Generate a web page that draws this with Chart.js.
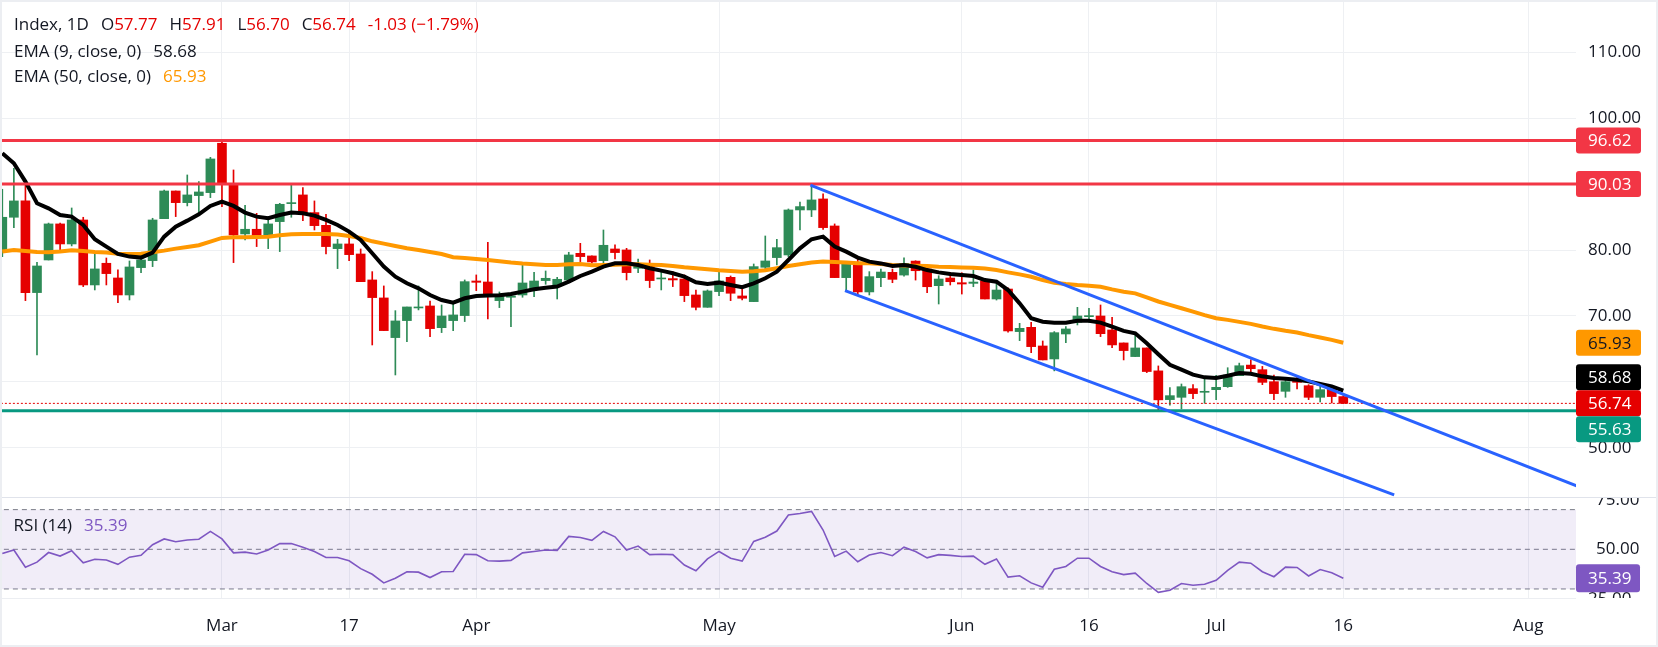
<!DOCTYPE html>
<html><head><meta charset="utf-8">
<script src="https://cdn.jsdelivr.net/npm/chart.js@4.4.1/dist/chart.umd.min.js"></script>
<style>
html,body{margin:0;padding:0;background:#fff;}
#wrap{position:relative;width:1658px;height:647px;overflow:hidden;font-family:'Open Sans',sans-serif;background:#fff;}
#main{position:absolute;left:0;top:0;}
#rsi{position:absolute;left:0;top:498px;}
.row{position:absolute;left:14px;white-space:nowrap;font-size:17px;line-height:20px;color:#131722;}
.row span{display:inline-block;}
.g{margin-left:12px;}
.red{color:#e50000;}
#frame{position:absolute;left:0;top:0;width:1658px;height:647px;border:2px solid #eceef2;box-sizing:border-box;pointer-events:none;}
#sep{position:absolute;left:0;top:497px;width:1658px;height:1px;background:#e0e3eb;}
#sep2{position:absolute;left:0;top:598px;width:1576px;height:1px;background:#eceef2;}
</style></head>
<body><div id="wrap">
<canvas id="main" width="1658" height="498"></canvas>
<canvas id="rsi" width="1658" height="149"></canvas>
<div id="sep"></div><div id="sep2"></div>
<div class="row" style="top:14px"><span>Index, 1D</span><span class="g">O<span class="red">57.77</span></span><span class="g">H<span class="red">57.91</span></span><span class="g">L<span class="red">56.70</span></span><span class="g">C<span class="red">56.74</span></span><span class="g red">-1.03 (−1.79%)</span></div>
<div class="row" style="top:40.7px"><span>EMA (9, close, 0)</span><span class="g">58.68</span></div>
<div class="row" style="top:66px"><span>EMA (50, close, 0)</span><span class="g" style="color:#ff9800">65.93</span></div>
<div class="row" style="top:514.6px;left:13.6px"><span>RSI (14)</span><span class="g" style="color:#7e57c2">35.39</span></div>
<div id="frame"></div>
</div>
<script>
// ---------------- DATA ----------------
const opens = [79.92,84.98,87.46,73.55,78.50,83.97,80.93,84.57,74.71,78.00,
75.77,73.19,77.34,78.40,84.77,88.97,87.20,88.27,88.72,96.21,
90.03,82.45,83.16,81.89,84.32,87.05,88.37,85.69,83.76,80.22,
80.93,79.41,75.47,72.74,66.72,69.30,71.22,71.52,68.23,69.30,
70.06,75.31,75.16,72.33,72.84,73.19,74.15,75.37,74.56,75.47,
79.51,79.11,78.40,80.17,80.02,77.24,77.89,75.62,75.67,75.62,
73.19,71.32,73.70,75.87,73.04,72.18,77.39,78.86,79.26,86.09,
86.09,87.76,83.66,75.82,77.84,73.65,75.81,76.62,76.21,78.33,
77.12,74.60,75.76,75.05,74.95,75.35,72.58,74.09,67.63,68.28,
65.45,63.48,67.27,69.04,69.90,70.00,67.88,65.91,63.84,65.15,
61.67,57.31,57.66,58.97,58.42,58.82,59.27,60.94,62.55,61.85,
60.03,58.57,60.13,59.42,57.66,58.92,57.77];
const highs = [89.23,92.41,90.49,78.15,84.10,84.10,86.39,84.98,79.41,78.80,
76.99,78.35,79.41,84.83,89.12,88.97,91.40,90.39,94.08,96.62,
92.16,86.80,85.58,85.08,87.10,90.03,89.48,87.46,85.43,81.64,
82.55,80.17,76.73,74.56,70.81,71.37,74.56,72.28,71.67,71.83,
75.47,76.23,81.18,73.65,73.45,77.74,76.63,76.83,75.87,79.67,
81.03,79.11,83.05,80.78,80.27,78.65,78.50,76.73,76.73,76.23,
73.95,73.95,76.99,76.07,74.30,77.89,82.14,81.64,86.24,87.30,
89.53,88.52,83.97,78.25,78.91,76.73,77.12,77.12,78.84,78.38,
77.47,76.11,76.62,76.57,76.97,75.45,75.10,74.29,68.89,69.04,
66.21,67.63,68.38,71.31,71.16,71.67,69.80,65.91,67.27,65.15,
62.42,59.12,59.68,59.58,60.48,60.99,62.15,62.85,63.36,62.35,
61.04,60.69,60.79,59.58,59.68,59.07,57.91];
const lows = [79.00,83.41,72.33,64.09,78.50,80.02,80.63,74.46,73.95,74.71,
72.03,72.43,76.58,77.49,84.77,85.08,86.70,85.33,87.96,86.60,
78.10,81.54,80.53,80.22,79.77,84.98,84.47,83.05,79.41,77.19,
78.40,75.21,65.60,67.78,61.05,66.11,70.92,66.87,67.48,67.78,
69.15,73.85,69.55,71.27,68.39,72.84,72.94,74.81,72.58,75.47,
78.25,78.00,78.00,78.65,75.47,76.58,74.31,73.95,74.46,72.18,
70.92,71.32,73.09,72.33,72.43,72.18,76.99,77.74,79.01,83.05,
85.08,83.15,75.82,73.80,73.19,73.19,74.44,75.05,76.06,75.45,
73.54,71.82,74.70,73.33,74.44,72.58,72.42,67.53,66.26,64.44,
63.33,61.67,65.96,68.64,69.04,66.87,65.20,63.33,63.84,61.41,
55.70,56.45,55.90,57.46,56.75,57.31,59.17,60.94,61.34,59.58,
57.31,57.66,58.92,57.31,56.95,56.80,56.70];
const closes = [84.98,87.46,73.55,77.59,83.97,80.93,84.57,74.71,77.14,76.43,
73.19,77.44,78.50,84.57,88.97,87.20,88.37,88.82,93.83,89.98,
82.30,83.16,81.89,83.97,86.95,87.10,85.69,83.71,80.53,80.93,
79.31,75.21,72.79,67.78,69.25,71.37,71.37,68.08,70.00,70.16,
75.21,75.11,72.94,72.94,73.04,75.01,75.31,75.72,75.57,79.26,
79.01,78.20,80.73,79.62,76.58,77.79,75.37,75.77,75.47,73.09,
71.32,73.80,75.32,73.45,72.69,77.49,78.35,80.37,86.09,86.60,
87.61,83.41,75.82,77.84,73.65,75.97,76.67,75.56,77.98,76.87,
74.44,75.61,75.20,74.85,75.15,72.58,73.94,67.73,68.13,65.35,
63.33,67.47,68.03,70.00,70.05,67.32,65.61,64.75,65.15,61.57,
57.27,57.91,59.27,58.22,58.57,59.17,61.04,62.45,62.00,59.93,
58.22,60.03,59.93,57.66,58.82,57.77,56.74];
const ema9 = [94.69,93.17,90.39,87.10,86.34,85.33,85.08,83.81,81.64,80.53,
79.41,79.01,78.86,79.62,82.04,83.56,84.47,85.43,86.70,87.35,
86.70,85.69,85.08,84.83,85.33,85.69,85.58,85.23,84.57,83.81,
82.80,81.54,79.51,77.49,75.97,74.96,74.20,73.19,72.43,72.03,
72.69,73.04,73.09,73.14,73.34,73.70,74.05,74.30,74.46,75.21,
76.07,76.73,77.49,78.00,78.00,77.74,77.24,76.88,76.48,75.97,
75.11,74.86,75.06,74.71,74.36,74.96,75.72,76.73,78.50,80.27,
81.64,82.04,80.53,79.77,78.86,78.25,77.98,77.58,77.73,77.47,
76.97,76.62,76.36,76.21,76.06,75.45,75.20,73.94,71.92,69.65,
69.14,68.99,68.99,69.29,69.29,68.99,68.38,67.73,67.37,65.86,
64.20,62.60,61.85,61.09,60.69,60.58,60.94,61.34,61.24,60.84,
60.58,60.48,60.33,60.08,59.68,59.32,58.68];
const ema50 = [79.77,80.02,79.87,79.72,79.67,79.77,79.97,79.87,79.72,79.62,
79.46,79.41,79.46,79.67,79.92,80.22,80.48,80.73,81.28,81.84,
81.94,81.94,81.99,82.04,82.25,82.40,82.45,82.45,82.45,82.35,
82.15,81.84,81.33,80.98,80.63,80.27,80.02,79.72,79.41,78.91,
78.81,78.65,78.50,78.30,78.10,77.95,77.84,77.74,77.74,77.84,
77.89,77.69,77.74,77.79,77.84,77.84,77.79,77.74,77.59,77.39,
77.24,77.09,76.93,76.83,76.73,76.78,76.93,77.24,77.59,77.84,
78.10,78.25,78.20,78.10,78.00,78.00,77.88,77.73,77.68,77.63,
77.58,77.47,77.42,77.37,77.32,77.22,76.97,76.62,76.31,75.96,
75.45,75.05,74.85,74.70,74.60,74.44,74.04,73.69,73.43,72.83,
72.20,71.68,71.17,70.67,70.12,69.66,69.41,69.11,68.80,68.40,
68.05,67.75,67.49,67.09,66.74,66.38,65.93];
const rsi14 = [47.84,49.64,40.99,43.51,48.38,46.58,49.28,43.15,44.95,44.59,
42.43,46.04,46.94,52.34,55.23,53.78,54.68,55.05,59.01,55.23,
48.20,48.56,47.66,49.64,52.88,52.88,51.08,48.92,45.86,45.86,
44.23,40.27,37.39,33.06,35.41,38.65,38.47,35.77,38.65,38.83,
47.48,47.30,44.23,44.05,44.41,48.20,48.92,49.64,49.46,56.49,
55.95,54.50,59.01,56.31,49.64,51.62,47.30,47.48,47.30,42.07,
39.19,45.14,48.92,45.50,44.05,53.96,56.13,59.19,67.30,68.02,
69.10,59.73,46.40,49.10,43.69,47.12,48.38,46.76,51.08,48.92,
45.68,47.30,46.94,46.40,46.58,42.43,45.14,35.95,36.67,33.06,
30.90,39.91,41.35,45.50,45.50,41.35,38.69,37.25,37.97,32.76,
28.28,29.35,32.76,31.87,32.41,34.38,39.41,43.54,43.00,38.69,
36.18,41.02,40.84,36.54,39.77,38.15,35.39];
const tickIdx  = [19, 30, 41, 62, 83, 94, 105, 116, 132];
const tickText = ['Mar','17','Apr','May','Jun','16','Jul','16','Aug'];
const priceTicks = [50, 60, 70, 80, 90, 100, 110];
const rsiTicks = [50, 75];
const rsiHiddenTick = [25];
const rsiBands = [70, 50, 30];
const resistance = [96.62, 90.03];
const support = [55.63];
const upperChannel = [[69.9, 89.85], [136.2, 44.2]];
const lowerChannel = [[72.9, 73.84], [120.4, 42.84]];

// ---------------- VIEW ----------------
const X_MIN = -0.2, X_MAX = 136.13, AXIS_W = 82;
const GREEN = '#2e8b57', RED = '#e50000', LRED = '#f23645', TEAL = '#089981', BLUE = '#2962ff';
const GRID = '#eef0f3';
Chart.defaults.font.family = "'Open Sans', sans-serif";
Chart.defaults.font.size = 17;
Chart.defaults.color = '#131722';

const N = closes.length;
const idx = closes.map((_, i) => i);
const candleColors = idx.map(i => closes[i] >= opens[i] ? GREEN : RED);
const wickData = idx.map(i => ({x: i, y: [lows[i], highs[i]]}));
const bodyData = idx.map(i => ({x: i, y: [Math.min(opens[i], closes[i]), Math.max(opens[i], closes[i])]}));
const series = arr => idx.map(i => ({x: i, y: arr[i]}));
const hline = v => [{x: X_MIN - 2, y: v}, {x: X_MAX + 2, y: v}];
const seg = s => s.map(p => ({x: p[0], y: p[1]}));

function xScale(show) {
  return {
    type: 'linear', min: X_MIN, max: X_MAX, offset: false,
    grid: {color: GRID, drawTicks: false, offset: false},
    border: {display: false},
    ticks: {display: show, autoSkip: false, maxRotation: 0, padding: 18, color: '#131722',
      callback: (v, i) => tickText[i] ?? ''},
    afterBuildTicks: s => { s.ticks = tickIdx.map(v => ({value: v})); },
    afterFit: s => { s.height = show ? 49 : 0; s.paddingLeft = 0; s.paddingRight = 0; }
  };
}

function drawBoxes(chart, list, h, w) {
  const ys = chart.scales.y, ctx = chart.ctx;
  const items = list.map(b => Object.assign({}, b, {py: ys.getPixelForValue(b.v)})).sort((a, b) => a.py - b.py);
  const a = items.findIndex(b => b.anchor);
  if (a >= 0) {
    for (let j = a - 1; j >= 0; j--) items[j].py = Math.min(items[j].py, items[j + 1].py - h);
    for (let j = a + 1; j < items.length; j++) items[j].py = Math.max(items[j].py, items[j - 1].py + h);
  }
  const left = chart.chartArea.right;
  items.forEach(b => {
    ctx.save();
    ctx.fillStyle = b.bg;
    ctx.beginPath();
    ctx.roundRect(left, b.py - h / 2, w, h, 3);
    ctx.fill();
    ctx.fillStyle = b.fg;
    ctx.font = "17px 'Open Sans', sans-serif";
    ctx.textBaseline = 'middle'; ctx.textAlign = 'left';
    ctx.fillText(b.v.toFixed(2), left + 12, b.py + 1);
    ctx.restore();
  });
}

const mainBoxes = [
  {v: resistance[0], bg: LRED, fg: '#fff'},
  {v: resistance[1], bg: LRED, fg: '#fff'},
  {v: ema50[N - 1], bg: '#ff9800', fg: '#131722'},
  {v: ema9[N - 1], bg: '#000', fg: '#fff'},
  {v: closes[N - 1], bg: RED, fg: '#fff', anchor: true},
  {v: support[0], bg: TEAL, fg: '#fff'}
];

new Chart(document.getElementById('main'), {
  type: 'bar',
  data: {datasets: [
    {type: 'bar', data: wickData, backgroundColor: candleColors, barThickness: 1, grouped: false, borderWidth: 0, order: 6},
    {type: 'bar', data: bodyData, backgroundColor: candleColors, barThickness: 9, minBarLength: 1, grouped: false, borderWidth: 0, order: 5},
    {type: 'line', data: series(ema50), borderColor: '#ff9800', borderWidth: 4, pointRadius: 0, order: 4},
    {type: 'line', data: series(ema9), borderColor: '#000000', borderWidth: 4, pointRadius: 0, order: 3},
    {type: 'line', data: hline(resistance[0]), borderColor: LRED, borderWidth: 3, pointRadius: 0, clip: 0, order: 2},
    {type: 'line', data: hline(resistance[1]), borderColor: LRED, borderWidth: 3, pointRadius: 0, clip: 0, order: 2},
    {type: 'line', data: hline(support[0]), borderColor: TEAL, borderWidth: 3, pointRadius: 0, clip: 0, order: 2},
    {type: 'line', data: hline(closes[N - 1]), borderColor: RED, borderWidth: 1, borderDash: [2, 2], pointRadius: 0, clip: 0, order: 2},
    {type: 'line', data: seg(upperChannel), borderColor: BLUE, borderWidth: 3, pointRadius: 0, clip: 0, order: 1},
    {type: 'line', data: seg(lowerChannel), borderColor: BLUE, borderWidth: 3, pointRadius: 0, clip: 0, order: 1}
  ]},
  options: {
    responsive: false, animation: false, devicePixelRatio: 1, events: [],
    layout: {padding: 0},
    plugins: {legend: {display: false}, tooltip: {enabled: false}},
    scales: {
      x: xScale(false),
      y: {type: 'linear', position: 'right', min: 42.38, max: 117.95,
        grid: {color: GRID, drawTicks: false}, border: {display: false},
        ticks: {padding: 12, autoSkip: false, color: '#131722', callback: v => v.toFixed(2)},
        afterBuildTicks: s => { s.ticks = priceTicks.map(v => ({value: v})); },
        afterFit: s => { s.width = AXIS_W; s.paddingTop = 0; s.paddingBottom = 0; }}
    }
  },
  plugins: [{id: 'boxes', afterDraw: c => drawBoxes(c, mainBoxes, 26, 65)}]
});

new Chart(document.getElementById('rsi'), {
  type: 'line',
  data: {datasets: [
    {data: hline(rsiBands[0]), borderColor: '#787b86', borderWidth: 1, borderDash: [5, 4], pointRadius: 0, fill: 1, backgroundColor: 'rgba(126,87,194,0.11)', order: 2},
    {data: hline(rsiBands[2]), borderColor: '#787b86', borderWidth: 1, borderDash: [5, 4], pointRadius: 0, fill: false, order: 2},
    {data: hline(rsiBands[1]), borderColor: '#787b86', borderWidth: 1, borderDash: [5, 4], pointRadius: 0, fill: false, order: 2},
    {data: series(rsi14), borderColor: '#7e57c2', borderWidth: 1.6, pointRadius: 0, fill: false, order: 0}
  ]},
  options: {
    responsive: false, animation: false, devicePixelRatio: 1, events: [],
    layout: {padding: 0},
    plugins: {legend: {display: false}, tooltip: {enabled: false}},
    scales: {
      x: xScale(true),
      y: {type: 'linear', position: 'right', min: 25.44, max: 75.87,
        grid: {display: false}, border: {display: false},
        ticks: {padding: 12, autoSkip: false, color: '#131722', callback: v => v.toFixed(2)},
        afterBuildTicks: s => { s.ticks = rsiTicks.map(v => ({value: v})); },
        afterFit: s => { s.width = AXIS_W; s.paddingTop = 0; s.paddingBottom = 0; }}
    }
  },
  plugins: [{id: 'rsiBox', afterDraw: c => {
    const ctx = c.ctx, ys = c.scales.y, ca = c.chartArea;
    ctx.save();
    ctx.beginPath(); ctx.rect(ca.right, 0, AXIS_W, ca.bottom); ctx.clip();
    ctx.fillStyle = '#131722'; ctx.font = "17px 'Open Sans', sans-serif";
    ctx.textBaseline = 'middle'; ctx.textAlign = 'left';
    rsiHiddenTick.forEach(v => ctx.fillText(v.toFixed(2), ca.right + 12, ys.getPixelForValue(v)));
    ctx.restore();
    drawBoxes(c, [{v: rsi14[N - 1], bg: '#7e57c2', fg: '#fff'}], 28, 64);
  }}]
});
</script>
</body></html>
